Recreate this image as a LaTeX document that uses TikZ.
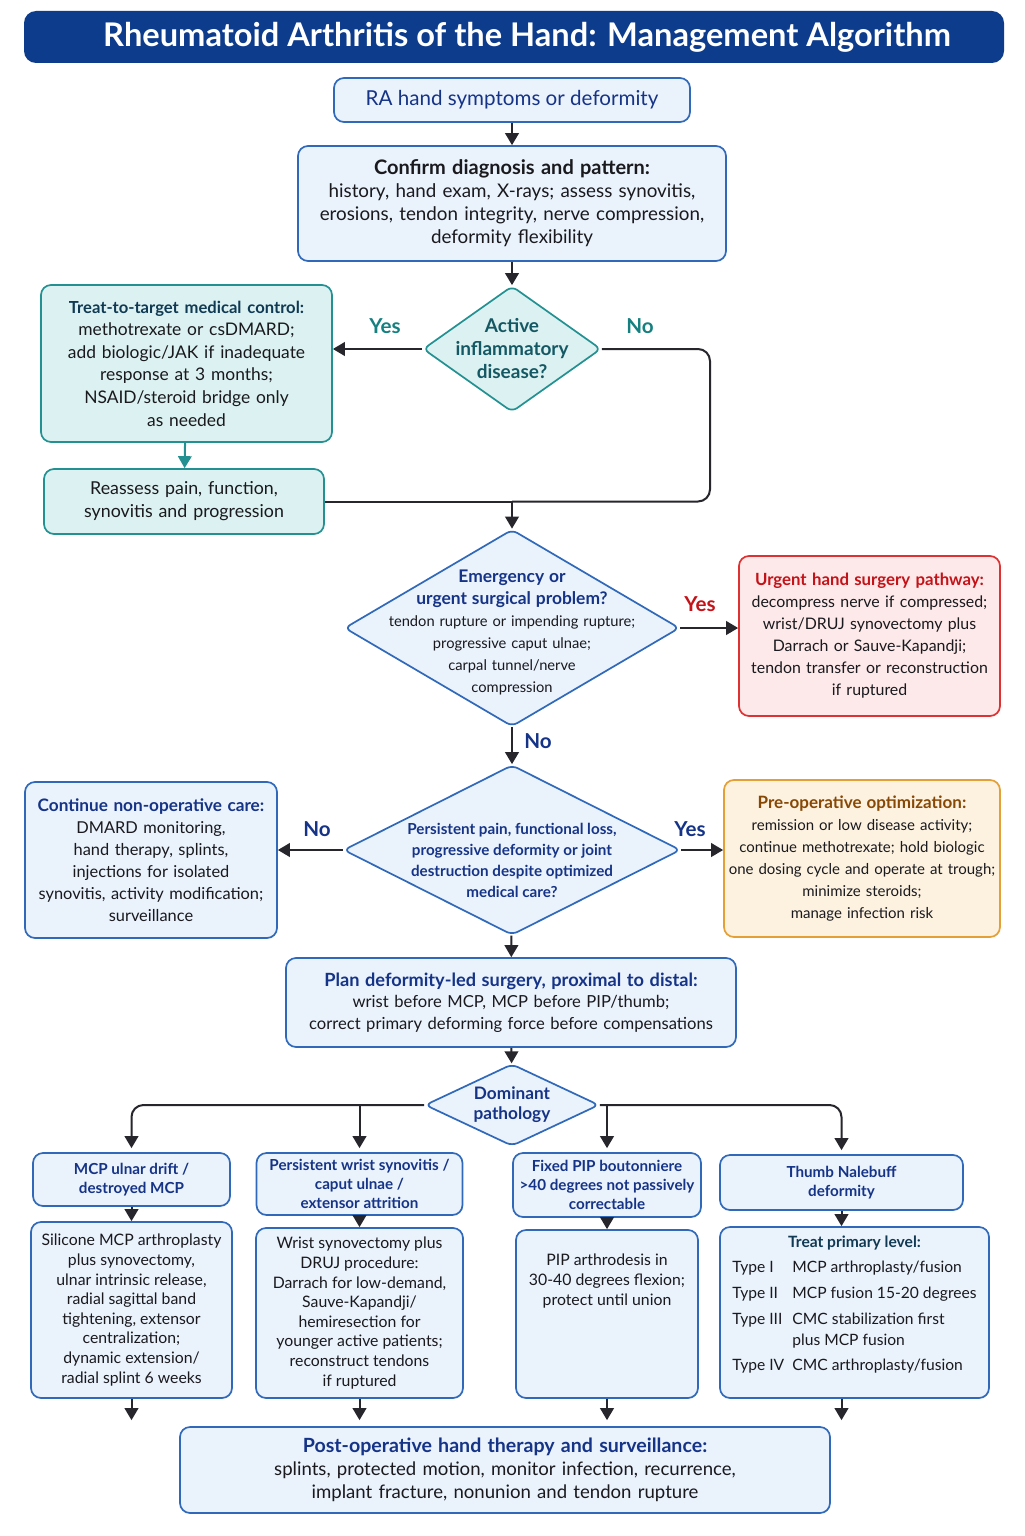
\documentclass[tikz,border=0pt]{standalone}
\usepackage{fontspec}
\setmainfont{Lato}
\usetikzlibrary{shapes.geometric,arrows.meta,positioning}

\definecolor{titleblue}{RGB}{14,60,140}
\definecolor{boxline}{RGB}{48,105,185}
\definecolor{boxfill}{RGB}{234,242,252}
\definecolor{headblue}{RGB}{22,52,135}
\definecolor{tealline}{RGB}{35,145,145}
\definecolor{tealfill}{RGB}{220,241,241}
\definecolor{tealhead}{RGB}{16,58,84}
\definecolor{tealdec}{RGB}{20,88,100}
\definecolor{teallabel}{RGB}{22,128,128}
\definecolor{redline}{RGB}{222,50,50}
\definecolor{redfill}{RGB}{253,233,233}
\definecolor{redtext}{RGB}{196,18,24}
\definecolor{orline}{RGB}{228,160,55}
\definecolor{orfill}{RGB}{253,242,224}
\definecolor{ortext}{RGB}{135,72,5}
\definecolor{arrowgray}{RGB}{38,38,44}
\definecolor{bodytext}{RGB}{25,25,30}

\tikzset{
  box/.style={draw=boxline, fill=boxfill, line width=0.85pt, rounded corners=5pt, align=center, inner sep=0pt, text=bodytext, font=\fontsize{8.3}{11.2}\selectfont},
  tealbox/.style={box, draw=tealline, fill=tealfill},
  redbox/.style={box, draw=redline, fill=redfill},
  orbox/.style={box, draw=orline, fill=orfill},
  decision/.style={diamond, draw=boxline, fill=boxfill, line width=0.85pt, inner sep=0pt, rounded corners=3pt},
  dectext/.style={align=center, text=headblue, font=\bfseries\fontsize{7.6}{10.5}\selectfont},
  headtext/.style={text=headblue, font=\bfseries\fontsize{7.6}{9.6}\selectfont},
  detailtext/.style={font=\fontsize{7.9}{9.8}\selectfont},
  flow/.style={-{Triangle[length=6pt,width=6.8pt]}, draw=arrowgray, line width=1pt},
  link/.style={draw=arrowgray, line width=1pt},
  yesno/.style={font=\bfseries\fontsize{10.3}{12}\selectfont},
}

\begin{document}
\begin{tikzpicture}[x=0.5pt,y=0.5pt,yscale=-1]
\useasboundingbox[fill=white] (0,0) rectangle (1024,1536);

% Title
\node[fill=titleblue, rounded corners=6pt, minimum width=490pt, minimum height=26pt, text=white, font=\bfseries\fontsize{16.3}{19}\selectfont] (title) at (514,37) {\hspace*{13pt}Rheumatoid Arthritis of the Hand: Management Algorithm};

% Start and diagnosis
\node[box, minimum width=178pt, minimum height=22pt, text=headblue, font=\fontsize{10.3}{12}\selectfont] (start) at (512,100) {RA hand symptoms or deformity};
\node[box, minimum width=214pt, minimum height=57.5pt, text width=214pt, font=\fontsize{9.4}{11.5}\selectfont] (confirm) at (512,203.5) {{\fontsize{10}{11.5}\selectfont\bfseries Confirm diagnosis and pattern:}\\ history, hand exam, X-rays; assess synovitis,\\ erosions, tendon integrity, nerve compression,\\ deformity flexibility};

% Active disease
\node[decision, draw=tealline, fill=tealfill, minimum width=89pt, minimum height=63pt, label={[dectext, text=tealdec, font=\bfseries\fontsize{9.5}{11.5}\selectfont]center:Active\\inflammatory\\disease?}] (active) at (512,349) {};
\node[tealbox, minimum width=145.5pt, minimum height=78.5pt, text width=145.5pt, font=\fontsize{8.7}{11.3}\selectfont] (treat) at (186.5,363.5) {{\color{tealhead}\bfseries\fontsize{8.3}{11.3}\selectfont Treat-to-target medical control:}\\ methotrexate or csDMARD;\\ add biologic/JAK if inadequate\\ response at 3 months;\\ NSAID/steroid bridge only\\ as needed};
\node[tealbox, minimum width=140pt, minimum height=32.5pt, text width=140pt, font=\fontsize{8.9}{11.5}\selectfont] (reassess) at (184,501.5) {Reassess pain, function,\\ synovitis and progression};
\coordinate (nobend) at (710,501.5);
\coordinate (merge) at (512,501.5);

% Emergency
\node[decision, minimum width=167.5pt, minimum height=98.5pt, label={[dectext, text width=160pt, yshift=-2pt, font=\fontsize{7.35}{11}\selectfont]center:{{\fontsize{8.7}{11}\selectfont\bfseries Emergency or\\ urgent surgical problem?}\\ {\mdseries\color{bodytext}tendon rupture or impending rupture;\\ progressive caput ulnae;\\ carpal tunnel/nerve\\ compression}}}] (emerg) at (512,628) {};
\node[redbox, minimum width=130.5pt, minimum height=80pt, text width=130.5pt, font=\fontsize{7.95}{11}\selectfont] (urgent) at (869.5,636) {{\color{redtext}\bfseries\fontsize{8.4}{11}\selectfont Urgent hand surgery pathway:}\\ decompress nerve if compressed;\\ wrist/DRUJ synovectomy plus\\ Darrach or Sauve-Kapandji;\\ tendon transfer or reconstruction\\ if ruptured};

% Surgery decision
\node[decision, minimum width=168.5pt, minimum height=85pt, label={[dectext, yshift=-5pt]center:Persistent pain, functional loss,\\ progressive deformity or joint\\ destruction despite optimized\\ medical care?}] (persist) at (512,850) {};
\node[box, minimum width=126pt, minimum height=78pt, text width=126pt, font=\fontsize{8.2}{11}\selectfont] (nonop) at (151,860) {{\color{headblue}\bfseries\fontsize{8.6}{11}\selectfont Continue non-operative care:}\\ DMARD monitoring,\\ hand therapy, splints,\\ injections for isolated\\ synovitis, activity modification;\\ surveillance};
\node[orbox, minimum width=138pt, minimum height=78.5pt, text width=138pt, font=\fontsize{7.5}{11}\selectfont] (preop) at (862,858.5) {{\color{ortext}\bfseries\fontsize{8.5}{11}\selectfont Pre-operative optimization:}\\ remission or low disease activity;\\ continue methotrexate; hold biologic\\ one dosing cycle and operate at trough;\\ minimize steroids;\\ manage infection risk};

% Plan
\node[box, minimum width=225pt, minimum height=44.5pt, text width=225pt, font=\fontsize{8.3}{10.8}\selectfont] (plan) at (511,1002.5) {{\color{headblue}\bfseries\fontsize{9.1}{10.8}\selectfont Plan deformity-led surgery, proximal to distal:}\\ wrist before MCP, MCP before PIP/thumb;\\ correct primary deforming force before compensations};
\node[decision, minimum width=87pt, minimum height=41pt, label={[dectext, font=\bfseries\fontsize{8.6}{10}\selectfont]center:Dominant\\ pathology}] (dominant) at (512,1105) {};

% Pathology headers
\node[box, headtext, minimum width=98.5pt, minimum height=26.5pt] (hmcp) at (131.5,1179.5) {MCP ulnar drift /\\ destroyed MCP};
\node[box, headtext, minimum width=103pt, minimum height=31pt] (hwrist) at (359.5,1184) {Persistent wrist synovitis /\\ caput ulnae /\\ extensor attrition};
\node[box, headtext, minimum width=94pt, minimum height=32pt] (hpip) at (607,1185) {Fixed PIP boutonniere\\ >40 degrees not passively\\ correctable};
\node[box, headtext, minimum width=121.5pt, minimum height=27.5pt] (hthumb) at (841.5,1182.5) {Thumb Nalebuff\\ deformity};

% Pathology details
\node[box, detailtext, minimum width=100.5pt, minimum height=88pt] (dmcp) at (131.5,1310) {Silicone MCP arthroplasty\\ plus synovectomy,\\ ulnar intrinsic release,\\ radial sagittal band\\ tightening, extensor\\ centralization;\\ dynamic extension/\\ radial splint 6 weeks};
\node[box, detailtext, minimum width=103.5pt, minimum height=85pt] (dwrist) at (359.5,1313) {Wrist synovectomy plus\\ DRUJ procedure:\\ Darrach for low-demand,\\ Sauve-Kapandji/\\ hemiresection for\\ younger active patients;\\ reconstruct tendons\\ if ruptured};
\node[box, minimum width=91pt, minimum height=84pt] (dpip) at (607,1314) {};
\node[detailtext, align=center, text=bodytext, below=9pt of dpip.north] (dpiptext) {PIP arthrodesis in\\ 30-40 degrees flexion;\\ protect until union};
\node[box, minimum width=134.5pt, minimum height=85.5pt] (dthumb) at (854.5,1312.5) {};
\node[font=\fontsize{7.8}{10.5}\selectfont, text=bodytext, below=3pt of dthumb.north, inner sep=0pt] (dthumbtext) {\begin{tabular}{@{}p{30pt}@{}l@{}}
\multicolumn{2}{c}{\color{tealhead}\bfseries Treat primary level:}\\[2pt]
Type I & MCP arthroplasty/fusion\\[2.5pt]
Type II & MCP fusion 15-20 degrees\\[2.5pt]
Type III & CMC stabilization first\\
 & plus MCP fusion\\[2pt]
Type IV & CMC arthroplasty/fusion
\end{tabular}};

% Post-operative
\node[box, minimum width=325pt, minimum height=43pt, text width=325pt, font=\fontsize{9.3}{11.5}\selectfont] (postop) at (505,1470) {{\color{headblue}\bfseries\fontsize{9.8}{11.5}\selectfont Post-operative hand therapy and surveillance:}\\ splints, protected motion, monitor infection, recurrence,\\ implant fracture, nonunion and tendon rupture};

% Connectors
\draw[flow] (start) -- (confirm);
\draw[flow] (confirm) -- (active);
\draw[flow] (active.west) -- (active.west -| treat.east);
\draw[link, rounded corners=6pt] (active.east) -| (nobend) -- (merge);
\draw[flow, draw=tealline] (treat) -- (reassess);
\draw[link] (reassess.east |- merge) -- (merge);
\draw[flow] (merge) -- (emerg.north);
\draw[flow] (emerg.east) -- (emerg.east -| urgent.west);
\draw[flow] (emerg) -- (persist);
\draw[flow] (persist.west) -- (persist.west -| nonop.east);
\draw[flow] (persist.east) -- (persist.east -| preop.west);
\draw[flow] (persist) -- (plan);
\draw[flow] (plan) -- (dominant);
\draw[flow, rounded corners=6pt, shorten >=2pt] (dominant.west) -| (hmcp.north);
\draw[flow, shorten >=2pt] (dominant.west -| hwrist.north) -- (hwrist.north);
\draw[flow, rounded corners=6pt, shorten >=2pt] (dominant.east) -| (hthumb.north);
\draw[flow, shorten >=2pt] (dominant.east -| hpip.north) -- (hpip.north);
\draw[flow] (hmcp) -- (dmcp);
\draw[flow] (hwrist) -- (dwrist);
\draw[flow] (hpip) -- (dpip);
\draw[flow] (hthumb.south) -- (hthumb.south |- dthumb.north);
\draw[flow, shorten >=3pt] (dmcp.south) -- (dmcp.south |- postop.north);
\draw[flow, shorten >=3pt] (dwrist.south) -- (dwrist.south |- postop.north);
\draw[flow, shorten >=3pt] (dpip.south) -- (dpip.south |- postop.north);
\draw[flow, shorten >=3pt] (hthumb.south |- dthumb.south) -- (hthumb.south |- postop.north);

% Text Node
\node[yesno, text=teallabel] (yesactive) at (385,326) {Yes};
\node[yesno, text=teallabel] (noactive) at (640,326) {No};
\node[yesno, text=redtext] (yesemerg) at (700,604) {Yes};
\node[yesno, text=headblue] (noemerg) at (538,741) {No};
\node[yesno, text=headblue] (nopersist) at (317,829) {No};
\node[yesno, text=headblue] (yespersist) at (690,829) {Yes};
\end{tikzpicture}
\end{document}
